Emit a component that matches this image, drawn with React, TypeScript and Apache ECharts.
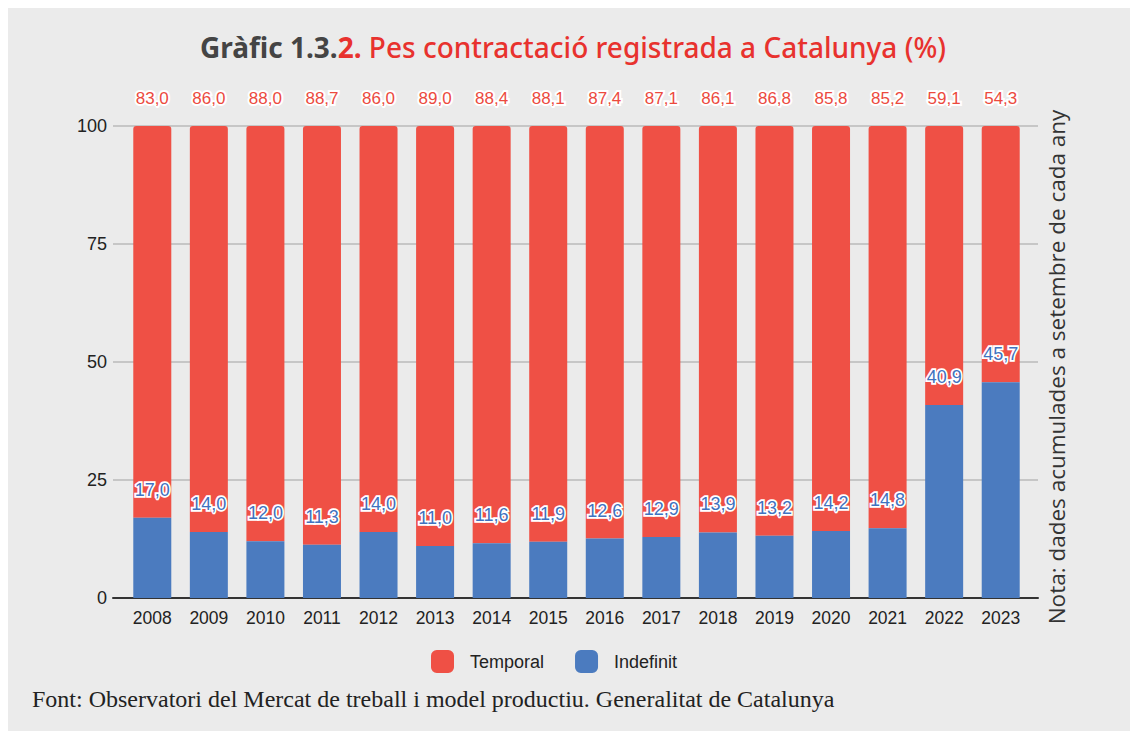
import React, { useEffect, useRef } from "react";
import * as echarts from "echarts";

const years = ["2008","2009","2010","2011","2012","2013","2014","2015","2016","2017","2018","2019","2020","2021","2022","2023"];
const temporal = [83.0,86.0,88.0,88.7,86.0,89.0,88.4,88.1,87.4,87.1,86.1,86.8,85.8,85.2,59.1,54.3];
const indefinit = [17.0,14.0,12.0,11.3,14.0,11.0,11.6,11.9,12.6,12.9,13.9,13.2,14.2,14.8,40.9,45.7];
const yTicks = [0,25,50,75,100];

const fmt = (v: number) => v.toFixed(1).replace(".", ",");

export default function App() {
  const ref = useRef<HTMLDivElement>(null);
  useEffect(() => {
    const chart = echarts.init(ref.current!, null, { renderer: "svg" });
    const yMin = yTicks[0];
    const yMax = yTicks[yTicks.length - 1];
    chart.setOption({
      animation: false,
      backgroundColor: "#ebebeb",
      title: {
        text: "{a|Gràfic 1.3.}{c|2.}{b| Pes contractació registrada a Catalunya (%)}",
        left: "center",
        top: 22,
        textStyle: {
          rich: {
            a: { fontFamily: "Noto Sans", fontWeight: "bold", fontSize: 28, color: "#444" },
            c: { fontFamily: "Noto Sans", fontWeight: "bold", fontSize: 28, color: "#e8322e" },
            b: { fontFamily: "Noto Sans", fontWeight: 500, fontSize: 28, color: "#e8322e" },
          },
        },
      },
      legend: {
        top: 639,
        left: 418,
        itemWidth: 23,
        itemHeight: 23,
        itemGap: 31,
        icon: "roundRect",
        textStyle: { fontSize: 18, color: "#222", fontFamily: "Liberation Sans", padding: [0, 0, 0, 11] },
        data: ["Temporal", "Indefinit"],
      },
      grid: [
        { left: 116, right: 109, top: 120, bottom: 133 },
        { left: 105, right: 100, top: 120, bottom: 133 },
      ],
      xAxis: [
        {
          type: "category",
          gridIndex: 0,
          data: years,
          axisLine: { show: false },
          axisTick: { show: false },
          axisLabel: { fontSize: 17.5, color: "#222", fontFamily: "Liberation Sans", margin: 11 },
        },
        {
          type: "value",
          gridIndex: 1,
          min: 0,
          max: 1,
          axisLine: { show: true, lineStyle: { color: "#333", width: 2 } },
          axisTick: { show: false },
          axisLabel: { show: false },
          splitLine: { show: false },
        },
      ],
      yAxis: [
        {
          type: "value",
          gridIndex: 0,
          min: yMin,
          max: yMax,
          show: false,
        },
        {
          type: "value",
          gridIndex: 1,
          min: yMin,
          max: yMax,
          interval: 25,
          axisLine: { show: false },
          axisTick: { show: false },
          splitLine: { lineStyle: { color: "#c6c6c6", width: 2 } },
          axisLabel: { fontSize: 18, color: "#222", fontFamily: "Liberation Sans", margin: 6 },
        },
      ],
      series: [
        {
          name: "Indefinit",
          type: "bar",
          stack: "t",
          barWidth: 38,
          xAxisIndex: 0,
          yAxisIndex: 0,
          data: indefinit,
          itemStyle: { color: "#4b7bbf" },
          label: {
            show: true,
            position: "top",
            distance: 19,
            formatter: (p: any) => fmt(p.value),
            color: "#3f72c0",
            fontSize: 18,
            fontFamily: "Liberation Sans",
            textBorderColor: "#fff",
            textBorderWidth: 3.5,
          },
          z: 3,
        },
        {
          name: "Temporal",
          type: "bar",
          stack: "t",
          xAxisIndex: 0,
          yAxisIndex: 0,
          data: temporal,
          itemStyle: { color: "#ef5045", borderRadius: [3, 3, 0, 0] },
          label: {
            show: true,
            position: "top",
            distance: 19,
            formatter: (p: any) => fmt(p.value),
            color: "#ec4a3e",
            fontSize: 17,
            fontFamily: "Liberation Sans",
            textBorderColor: "#fff",
            textBorderWidth: 4,
          },
        },
      ],
      graphic: [
        {
          type: "text",
          x: 1048,
          y: 361,
          rotation: Math.PI / 2,
          style: {
            text: "Nota: dades acumulades a setembre de cada any",
            fontSize: 22.5,
            fontFamily: "Open Sans",
            fill: "#333",
            align: "center",
            verticalAlign: "middle",
          },
        },
        {
          type: "text",
          x: 24,
          y: 693,
          style: {
            text: "Font: Observatori del Mercat de treball i model productiu. Generalitat de Catalunya",
            fontSize: 24,
            fontFamily: "Liberation Serif",
            fill: "#222",
            verticalAlign: "middle",
          },
        },
      ],
    });
    return () => chart.dispose();
  }, []);
  return (
    <div style={{ position: "relative", top: -2, width: 1130, height: 725 }}>
      <div ref={ref} style={{ width: 1130, height: 725 }} />
    </div>
  );
}
